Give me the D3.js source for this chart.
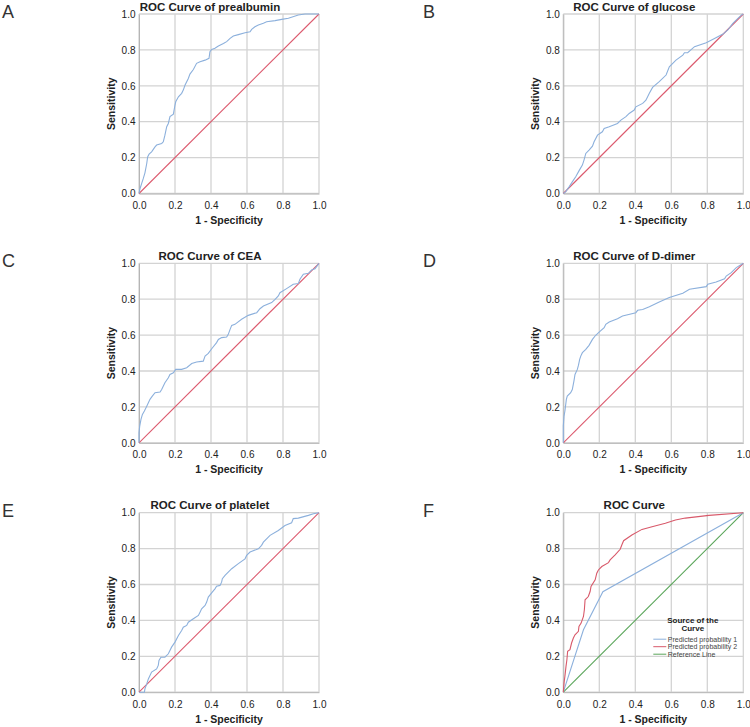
<!DOCTYPE html>
<html>
<head>
<meta charset="utf-8">
<script src="https://cdn.jsdelivr.net/npm/d3@7"></script>
<style>
    body { margin: 0; background: #fff; }
    svg { font-family: "Liberation Sans", Arial, sans-serif; }
</style>
</head>
<body>
<svg id="rocFigure" width="750" height="727"></svg>
<script>
/** Chart data: [1 - specificity, sensitivity] pairs **/
var prealbuminRoc = [[0,0],[0.006,0.028],[0.015,0.056],[0.024,0.084],[0.033,0.115],[0.043,0.167],
    [0.048,0.204],[0.056,0.219],[0.070,0.232],[0.089,0.260],[0.098,0.270],[0.126,0.279],[0.135,0.288],
    [0.144,0.325],[0.154,0.372],[0.163,0.390],[0.172,0.428],[0.191,0.442],[0.200,0.493],[0.204,0.511],
    [0.219,0.539],[0.237,0.558],[0.246,0.576],[0.256,0.604],[0.274,0.641],[0.283,0.665],[0.302,0.691],
    [0.320,0.725],[0.339,0.734],[0.367,0.743],[0.389,0.753],[0.394,0.790],[0.404,0.803],[0.422,0.809],
    [0.441,0.822],[0.469,0.836],[0.487,0.846],[0.506,0.864],[0.524,0.877],[0.552,0.885],[0.589,0.896],
    [0.617,0.901],[0.626,0.914],[0.644,0.929],[0.663,0.939],[0.691,0.948],[0.709,0.957],[0.756,0.963],
    [0.793,0.970],[0.830,0.976],[0.885,0.994],[0.922,1],[1,1]];

var glucoseRoc = [[0,0],[0.013,0.009],[0.032,0.037],[0.050,0.065],[0.069,0.093],[0.087,0.126],
    [0.106,0.158],[0.115,0.186],[0.125,0.223],[0.143,0.242],[0.162,0.264],[0.171,0.288],[0.190,0.325],
    [0.217,0.344],[0.227,0.362],[0.255,0.372],[0.301,0.390],[0.320,0.409],[0.348,0.428],[0.366,0.446],
    [0.394,0.465],[0.403,0.483],[0.441,0.502],[0.459,0.520],[0.478,0.558],[0.496,0.591],[0.533,0.623],
    [0.571,0.660],[0.589,0.706],[0.626,0.743],[0.664,0.771],[0.673,0.784],[0.691,0.784],[0.729,0.818],
    [0.794,0.840],[0.840,0.864],[0.887,0.888],[0.914,0.911],[0.942,0.948],[0.970,0.976],[0.989,0.994],[1,1]];

var ceaRoc = [[0,0],[0,0.056],[0.004,0.093],[0.011,0.130],[0.019,0.158],[0.030,0.177],[0.043,0.204],
    [0.061,0.242],[0.074,0.260],[0.089,0.279],[0.117,0.283],[0.126,0.297],[0.144,0.335],[0.163,0.362],
    [0.172,0.381],[0.191,0.390],[0.204,0.409],[0.237,0.409],[0.265,0.418],[0.293,0.442],[0.320,0.450],
    [0.357,0.455],[0.367,0.483],[0.385,0.498],[0.404,0.524],[0.431,0.558],[0.441,0.576],[0.459,0.586],
    [0.487,0.589],[0.496,0.604],[0.506,0.632],[0.515,0.654],[0.533,0.660],[0.570,0.688],[0.607,0.710],
    [0.654,0.725],[0.672,0.747],[0.691,0.762],[0.737,0.781],[0.756,0.799],[0.774,0.818],[0.783,0.836],
    [0.820,0.859],[0.857,0.883],[0.885,0.887],[0.894,0.911],[0.913,0.939],[0.941,0.944],[0.959,0.963],
    [0.978,0.970],[1,1]];

var dimerRoc = [[0,0],[0,0.093],[0.004,0.149],[0.009,0.177],[0.017,0.242],[0.022,0.260],[0.041,0.279],
    [0.050,0.297],[0.059,0.344],[0.065,0.381],[0.078,0.409],[0.084,0.431],[0.091,0.465],[0.097,0.483],
    [0.106,0.502],[0.125,0.520],[0.143,0.543],[0.162,0.576],[0.180,0.599],[0.199,0.617],[0.227,0.641],
    [0.236,0.660],[0.255,0.673],[0.301,0.691],[0.329,0.706],[0.403,0.725],[0.413,0.738],[0.441,0.743],
    [0.478,0.758],[0.533,0.784],[0.589,0.809],[0.664,0.833],[0.701,0.855],[0.794,0.870],[0.803,0.883],
    [0.849,0.896],[0.896,0.914],[0.905,0.929],[0.933,0.948],[0.961,0.976],[1,1]];

var plateletRoc = [[0,0],[0.030,0],[0.033,0.019],[0.043,0.046],[0.052,0.074],[0.061,0.093],
    [0.070,0.112],[0.098,0.130],[0.107,0.149],[0.111,0.177],[0.122,0.195],[0.144,0.195],[0.163,0.214],
    [0.181,0.251],[0.200,0.279],[0.219,0.316],[0.237,0.344],[0.246,0.362],[0.265,0.372],[0.274,0.390],
    [0.302,0.409],[0.330,0.428],[0.339,0.446],[0.348,0.465],[0.367,0.483],[0.376,0.502],[0.385,0.530],
    [0.407,0.558],[0.422,0.576],[0.431,0.591],[0.450,0.595],[0.459,0.613],[0.463,0.632],[0.478,0.651],
    [0.515,0.688],[0.552,0.716],[0.589,0.743],[0.598,0.762],[0.617,0.781],[0.663,0.799],[0.681,0.818],
    [0.691,0.836],[0.728,0.874],[0.774,0.901],[0.811,0.929],[0.848,0.944],[0.857,0.967],[0.885,0.970],
    [0.941,0.985],[0.969,0.994],[1,1]];

var predicted1Roc = [[0,0],[0.112,0.348],[0.220,0.560],[1,1]];

var predicted2Roc = [[0,0],[0.004,0.052],[0.009,0.089],[0.015,0.144],[0.020,0.181],[0.024,0.228],
    [0.037,0.237],[0.046,0.274],[0.056,0.302],[0.065,0.320],[0.084,0.339],[0.087,0.367],[0.099,0.385],
    [0.112,0.422],[0.117,0.459],[0.121,0.515],[0.139,0.533],[0.149,0.561],[0.154,0.589],[0.177,0.626],
    [0.186,0.663],[0.195,0.681],[0.214,0.700],[0.251,0.722],[0.260,0.737],[0.288,0.765],[0.316,0.796],
    [0.325,0.820],[0.335,0.844],[0.381,0.876],[0.437,0.907],[0.493,0.922],[0.567,0.941],[0.623,0.959],
    [0.678,0.970],[0.809,0.985],[1,1]];

var referenceLine = [[0,0],[1,1]];

var tickValues = [0, 0.2, 0.4, 0.6, 0.8, 1.0];
var panelLetters = ["A", "B", "C", "D", "E", "F"];
var panelTitles = ["ROC Curve of prealbumin", "ROC Curve of glucose", "ROC Curve of CEA",
                   "ROC Curve of D-dimer", "ROC Curve of platelet", "ROC Curve"];
var legendTitle = ["Source of the", "Curve"];
var legendLabels = ["Predicted probability 1", "Predicted probability 2", "Reference Line"];

var color_curve = '#8cb0dc';    // SPSS light blue
var color_ref   = '#dc5a6e';    // diagonal
var color_pp2   = '#d8596a';
var color_green = '#5aa65a';
var color_grid  = '#d3d3d3';
var color_text  = '#222';

var plotW = 180;
var plotH = 179.5;
var colX = [139, 563.3];
var rowY = [14, 263.3, 512.7];

var svg = d3.select("#rocFigure");


/**
 * Draws one ROC panel; series is a list of {data, color}.
 */
function drawPanel(idx, series)
{
    var px = colX[idx % 2];
    var py = rowY[Math.floor(idx / 2)];
    var letterX = (idx % 2 == 0) ? 2 : 423;

    var xScale = d3.scaleLinear().domain([0, 1]).range([0, plotW]);
    var yScale = d3.scaleLinear().domain([0, 1]).range([plotH, 0]);

    svg.append("text")
        .attr("x", letterX)
        .attr("y", py + 4)
        .style("font-size", "18px")
        .style("fill", "#333")
        .text(panelLetters[idx]);

    var g = svg.append("g")
        .attr("transform", "translate(" + px + "," + py + ")");

    // Grid lines
    g.append("g").selectAll("line.v")
        .data(tickValues)
        .enter().append("line")
        .attr("x1", function(d) { return xScale(d); })
        .attr("x2", function(d) { return xScale(d); })
        .attr("y1", 0).attr("y2", plotH)
        .style("stroke", color_grid).style("stroke-width", 1.3);

    g.append("g").selectAll("line.h")
        .data(tickValues)
        .enter().append("line")
        .attr("y1", function(d) { return yScale(d); })
        .attr("y2", function(d) { return yScale(d); })
        .attr("x1", 0).attr("x2", plotW)
        .style("stroke", color_grid).style("stroke-width", 1.3);

    // Axes (labels only, SPSS style)
    var xAxis = d3.axisBottom(xScale).tickValues(tickValues)
        .tickFormat(d3.format(".1f")).tickSize(0).tickPadding(8.5);
    var yAxis = d3.axisLeft(yScale).tickValues(tickValues)
        .tickFormat(d3.format(".1f")).tickSize(0).tickPadding(3.5);

    var gx = g.append("g").attr("transform", "translate(0," + plotH + ")").call(xAxis);
    var gy = g.append("g").call(yAxis);
    [gx, gy].forEach(function(a) {
        a.select(".domain").style("stroke", "#b5b5b5").style("stroke-width", 1);
        a.selectAll("text").style("font-size", "10px").style("fill", color_text)
            .style("font-family", "'Liberation Sans', Arial, sans-serif");
    });

    var line = d3.line()
        .x(function(d) { return xScale(d[0]); })
        .y(function(d) { return yScale(d[1]); });

    series.forEach(function(s) {
        g.append("path")
            .datum(s.data)
            .attr("d", line)
            .style("fill", "none")
            .style("stroke", s.color)
            .style("stroke-width", 1.1);
    });

    // Titles
    g.append("text")
        .attr("x", 71).attr("y", -3.5)
        .attr("text-anchor", "middle")
        .style("font-size", "11.5px").style("font-weight", "bold").style("fill", color_text)
        .text(panelTitles[idx]);

    g.append("text")
        .attr("x", plotW / 2).attr("y", plotH + 30.5)
        .attr("text-anchor", "middle")
        .style("font-size", "10.5px").style("font-weight", "bold").style("fill", color_text)
        .text("1 - Specificity");

    g.append("text")
        .attr("transform", "translate(-24," + (plotH / 2) + ") rotate(-90)")
        .attr("text-anchor", "middle")
        .style("font-size", "10.5px").style("font-weight", "bold").style("fill", color_text)
        .text("Sensitivity");

    return {g: g, xScale: xScale, yScale: yScale};
}


drawPanel(0, [{data: referenceLine, color: color_ref}, {data: prealbuminRoc, color: color_curve}]);
drawPanel(1, [{data: referenceLine, color: color_ref}, {data: glucoseRoc, color: color_curve}]);
drawPanel(2, [{data: referenceLine, color: color_ref}, {data: ceaRoc, color: color_curve}]);
drawPanel(3, [{data: referenceLine, color: color_ref}, {data: dimerRoc, color: color_curve}]);
drawPanel(4, [{data: referenceLine, color: color_ref}, {data: plateletRoc, color: color_curve}]);

var panelF = drawPanel(5, [{data: referenceLine, color: color_green},
                           {data: predicted1Roc, color: color_curve},
                           {data: predicted2Roc, color: color_pp2}]);

// Legend of panel F
var legendColors = [color_curve, color_pp2, color_green];
var lg = panelF.g.append("g").attr("transform", "translate(90,110)");

lg.selectAll("text.lt")
    .data(legendTitle)
    .enter().append("text")
    .attr("x", 39.5)
    .attr("y", function(d, i) { return i * 8; })
    .attr("text-anchor", "middle")
    .style("font-size", "8px").style("font-weight", "bold").style("fill", color_text)
    .text(function(d) { return d; });

var items = lg.selectAll("g.item")
    .data(legendLabels)
    .enter().append("g")
    .attr("transform", function(d, i) { return "translate(0," + (16.5 + i * 7.5) + ")"; });

items.append("line")
    .attr("x1", 0).attr("x2", 13)
    .attr("y1", 0).attr("y2", 0)
    .style("stroke", function(d, i) { return legendColors[i]; })
    .style("stroke-width", 1);

items.append("text")
    .attr("x", 14.5).attr("y", 2.5)
    .style("font-size", "7px").style("fill", "#444")
    .text(function(d) { return d; });
</script>
</body>
</html>
